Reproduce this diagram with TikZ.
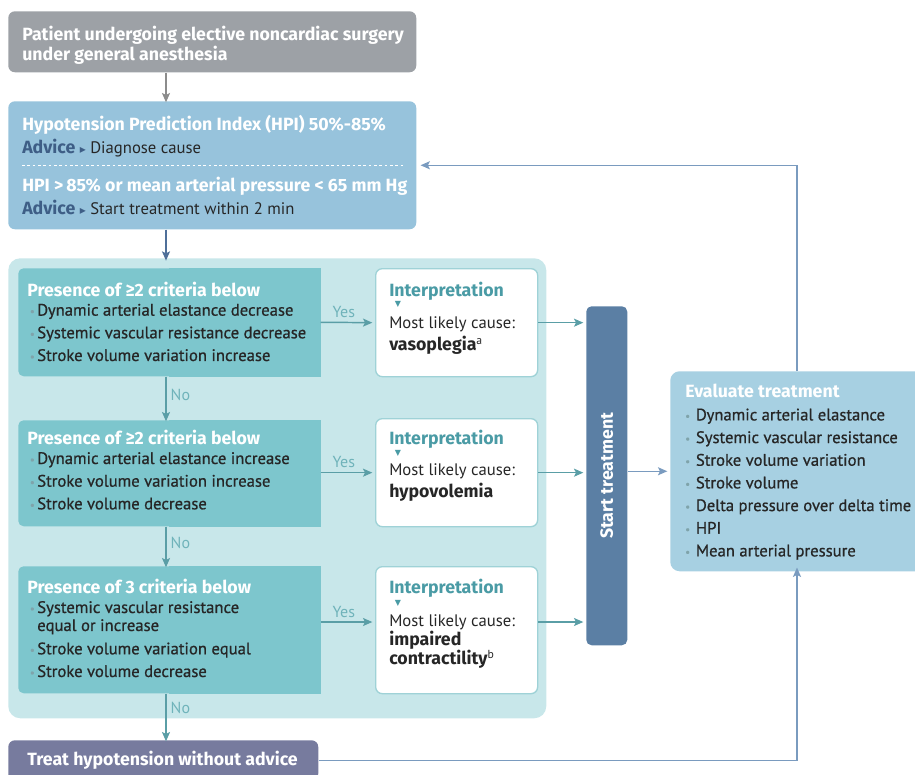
\documentclass[tikz,border=0pt]{standalone}
\usepackage{fontspec}
\setmainfont{PT Sans}
\newfontfamily\medfont{PT Sans}[FakeBold=0.8]
\newfontfamily\titlefont{Fira Sans}
\newfontfamily\symfont{DejaVu Sans}
\usetikzlibrary{arrows.meta, positioning}

\definecolor{boxgray}{HTML}{9DA1A6}
\definecolor{hpiblue}{HTML}{97C3DC}
\definecolor{advice}{HTML}{3E5E86}
\definecolor{darktxt}{HTML}{262626}
\definecolor{panel}{HTML}{C8E7EA}
\definecolor{crit}{HTML}{7DC6CD}
\definecolor{interpline}{HTML}{9FD2D7}
\definecolor{tealtxt}{HTML}{4A9BA5}
\definecolor{labelteal}{HTML}{6FB3BA}
\definecolor{arrowteal}{HTML}{5A9EA6}
\definecolor{startblue}{HTML}{5B7FA4}
\definecolor{evalblue}{HTML}{A7D0E2}
\definecolor{treatpurple}{HTML}{777B9E}
\definecolor{fbline}{HTML}{7A9BBF}
\definecolor{downblue}{HTML}{4F6F99}
\definecolor{dotgray}{HTML}{7FA3AA}

% bullet for the lists
\newcommand{\dotmark}{\color{dotgray}\raisebox{0.5pt}{\fontsize{8}{8}\selectfont\textbullet}}
\newcommand{\itm}{\hspace*{2pt}\makebox[5.5pt][l]{\dotmark}}
\newcommand{\bigb}{\titlefont\bfseries\fontsize{13.3}{17}\selectfont}
\newcommand{\adv}{{\color{advice}\bigb Advice} {\color{advice}\symfont\fontsize{9}{9}\selectfont ▸} }
\newcommand{\ttl}[1]{{\color{white}\bigb #1}}

\begin{document}
\begin{tikzpicture}[x=0.75pt, y=-0.75pt,
    every node/.style={font=\fontsize{12.5}{17}\selectfont},
    box/.style={rectangle, anchor=north west, inner sep=0, rounded corners=5pt},
    txt/.style={anchor=north west, inner sep=0, align=left, text=darktxt},
    bold/.style={font=\bigb},
    arrow/.style={-{Stealth[length=7pt, width=6pt, inset=1.5pt]}, line width=1.1pt},
    tarrow/.style={arrow, draw=arrowteal},
    lbl/.style={font=\fontsize{12}{14}\selectfont, text=labelteal, inner sep=3pt},
    tri/.style={inner sep=0, text=tealtxt, font=\symfont\fontsize{6}{6}\selectfont}
]
\clip (0,0) rectangle (915,775);

% ============ BOXES ============
\node[box, fill=boxgray, minimum width=306pt, minimum height=45.75pt] (patient) at (8,11) {};
\node[box, fill=hpiblue, minimum width=306pt, minimum height=96pt] (hpi) at (8,101) {};
\node[box, fill=panel, rounded corners=9pt, minimum width=403.5pt, minimum height=345pt] (panel) at (8,258) {};

\node[box, fill=crit, rounded corners=4pt, minimum width=226.5pt, minimum height=81pt] (crit1) at (18,268) {};
\node[box, fill=crit, rounded corners=4pt, minimum width=226.5pt, minimum height=79.5pt] (crit2) at (18,420) {};
\node[box, fill=crit, rounded corners=4pt, minimum width=226.5pt, minimum height=95.25pt] (crit3) at (18,566) {};
% square right edge of the criteria boxes
\fill[crit] (crit1.north) rectangle (crit1.south east);
\fill[crit] (crit2.north) rectangle (crit2.south east);
\fill[crit] (crit3.north) rectangle (crit3.south east);

\node[box, fill=white, draw=interpline, line width=1pt, minimum width=121.5pt, minimum height=81pt] (interp1) at (375,268) {};
\node[box, fill=white, draw=interpline, line width=1pt, minimum width=121.5pt, minimum height=81pt] (interp2) at (375,418) {};
\node[box, fill=white, draw=interpline, line width=1pt, minimum width=121.5pt, minimum height=95.25pt] (interp3) at (375,566) {};

\node[box, fill=startblue, rounded corners=4pt, minimum width=30.75pt, minimum height=254.25pt] (start) at (586,306) {};
\node[box, fill=evalblue, rounded corners=7pt, minimum width=200pt, minimum height=150pt] (eval) at (670,371) {};
\node[box, fill=treatpurple, minimum width=232.5pt, minimum height=30pt] (treat) at (8,740) {};

\coordinate (spine) at (166,0);

% ============ TEXT ============
\node[txt, text=white, font=\titlefont\bfseries\fontsize{13.3}{13.5}\selectfont] (patientTxt) at (22,26)
    {Patient undergoing elective noncardiac surgery\\under general anesthesia};

\node[txt] (hpiA) at (22,115)
    {\ttl{Hypotension Prediction Index (HPI) 50\%-85\%}\\ \adv Diagnose cause};
\node[txt] (hpiB) at (22,177)
    {\ttl{HPI >\,85\% or mean arterial pressure < 65 mm Hg}\\ \adv Start treatment within 2 min};

\node[txt] (crit1Txt) at (27,282)
    {\ttl{Presence of ≥2 criteria below}\\[-2.75pt]
     \medfont\itm Dynamic arterial elastance decrease\\
     \medfont\itm Systemic vascular resistance decrease\\
     \medfont\itm Stroke volume variation increase};
\node[txt] (crit2Txt) at (27,430)
    {\ttl{Presence of ≥2 criteria below}\\[-2.5pt]
     \medfont\itm Dynamic arterial elastance increase\\
     \medfont\itm Stroke volume variation increase\\
     \medfont\itm Stroke volume decrease};
\node[txt] (crit3Txt) at (27,579)
    {\ttl{Presence of 3 criteria below}\\[-2.5pt]
     \medfont\itm Systemic vascular resistance\\[-3.5pt]
     \medfont\hspace*{7.5pt}equal or increase\\[0.5pt]
     \medfont\itm Stroke volume variation equal\\
     \medfont\itm Stroke volume decrease};

% Interpretations
\node[txt, bold, text=tealtxt] (int1Title) at (389,282) {Interpretation};
\node[tri] (int1Tri) at (398,304) {▼};
\node[txt] (int1Txt) at (389,316) {Most likely cause:\\ {\bigb vasoplegia}\textsuperscript{a}};

\node[txt, bold, text=tealtxt] (int2Title) at (389,430) {Interpretation};
\node[tri] (int2Tri) at (398,453) {▼};
\node[txt] (int2Txt) at (389,463) {Most likely cause:\\ {\bigb hypovolemia}};

\node[txt, bold, text=tealtxt] (int3Title) at (389,579) {Interpretation};
\node[tri] (int3Tri) at (398,603) {▼};
\node[txt, font=\fontsize{12.5}{14.5}\selectfont] (int3Txt) at (389,614)
    {Most likely cause:\\ {\bigb impaired}\\ {\bigb contractility}\textsuperscript{b}};

% Start treatment
\node[rotate=90, bold, text=white] (startTxt) at (start.center) {Start treatment};

% Evaluate treatment
\node[txt] (evalTxt) at (685,384)
    {\ttl{Evaluate treatment}\\
     \medfont\makebox[8pt][l]{\dotmark}Dynamic arterial elastance\\
     \medfont\makebox[8pt][l]{\dotmark}Systemic vascular resistance\\
     \medfont\makebox[8pt][l]{\dotmark}Stroke volume variation\\
     \medfont\makebox[8pt][l]{\dotmark}Stroke volume\\
     \medfont\makebox[8pt][l]{\dotmark}Delta pressure over delta time\\
     \medfont\makebox[8pt][l]{\dotmark}HPI\\
     \medfont\makebox[8pt][l]{\dotmark}Mean arterial pressure};

\node[anchor=west, inner sep=0, bold, text=white] (treatTxt) at (27,760) {Treat hypotension without advice};

% ============ CONNECTORS ============
\draw[arrow, draw=gray!90] (patient.south -| spine) -- ([yshift=-1pt]hpi.north -| spine);
\draw[arrow, draw=downblue] (hpi.south -| spine) -- ([yshift=-2pt]panel.north -| spine);
\draw[white, dashed, dash pattern=on 2pt off 2pt, line width=0.6pt] ([xshift=10.5pt]hpi.west) -- ([xshift=-9.5pt]hpi.east);

% Yes
\draw[tarrow] (crit1.east) -- node[lbl, above, pos=0.45] {Yes} ([xshift=-2pt]interp1.west);
\draw[tarrow] (crit2.east |- interp2.west) -- node[lbl, above, pos=0.45] {Yes} ([xshift=-2pt]interp2.west);
\draw[tarrow] (crit3.east |- 0,622) -- node[lbl, above, pos=0.45] {Yes} ([xshift=-2pt]interp3.west |- 0,622);

% No
\draw[tarrow] (crit1.south -| spine) -- node[lbl, right, pos=0.4] {No} ([yshift=-1pt]crit2.north -| spine);
\draw[tarrow] (crit2.south -| spine) -- node[lbl, right, pos=0.4] {No} ([yshift=-1pt]crit3.north -| spine);
\draw[tarrow] (crit3.south -| spine) -- node[lbl, right, pos=0.3] {No} ([yshift=-1pt]treat.north -| spine);

% to start treatment
\draw[tarrow] (interp1.east) -- ([xshift=-2pt]start.west |- interp1.east);
\draw[tarrow] (interp2.east) -- ([xshift=-2pt]start.west |- interp2.east);
\draw[tarrow] (interp3.east |- 0,622) -- ([xshift=-2pt]start.west |- 0,622);
\draw[arrow, draw=fbline] (start.east |- eval.west) -- ([xshift=-2pt]eval.west);

% feedback loops
\draw[arrow, draw=fbline] (eval.north -| 797,0) |- ([xshift=3pt]hpi.east);
\draw[arrow, draw=fbline] (treat.east) -| ([yshift=3pt]eval.south -| 797,0);

\end{tikzpicture}
\end{document}
